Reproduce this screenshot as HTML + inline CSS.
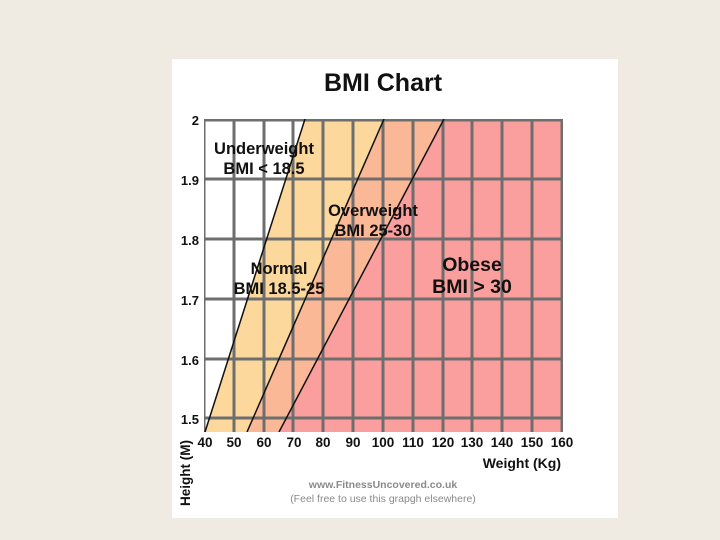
<!DOCTYPE html>
<html><head><style>
html,body{margin:0;padding:0;background:#efebe3;width:720px;height:540px;overflow:hidden}
svg{display:block}
text{font-family:"Liberation Sans",Arial,sans-serif;font-weight:bold;fill:#111}
</style></head><body>
<svg width="720" height="540" viewBox="0 0 720 540">
<rect x="0" y="0" width="720" height="540" fill="#efebe3"/>
<rect x="172" y="59" width="446" height="459" fill="#fff"/>
<text x="383" y="91" font-size="25" text-anchor="middle">BMI Chart</text>
<defs><clipPath id="c"><rect x="204" y="119" width="359" height="313"/></clipPath></defs>
<g clip-path="url(#c)">
<rect x="204" y="119" width="359" height="313" fill="#fa9e9e"/>
<polygon points="384,119 444,119 279,432 247,432" fill="#fbb896"/>
<polygon points="305,119 384,119 247,432 205,432" fill="#fcd89c"/>
<polygon points="204,119 305,119 205,432 204,432" fill="#ffffff"/>
<g stroke="#6e6e6e" stroke-width="3">
<line x1="204" y1="119" x2="204" y2="432"/>
<line x1="234" y1="119" x2="234" y2="432"/>
<line x1="264" y1="119" x2="264" y2="432"/>
<line x1="293" y1="119" x2="293" y2="432"/>
<line x1="323" y1="119" x2="323" y2="432"/>
<line x1="353" y1="119" x2="353" y2="432"/>
<line x1="383" y1="119" x2="383" y2="432"/>
<line x1="413" y1="119" x2="413" y2="432"/>
<line x1="443" y1="119" x2="443" y2="432"/>
<line x1="472" y1="119" x2="472" y2="432"/>
<line x1="502" y1="119" x2="502" y2="432"/>
<line x1="532" y1="119" x2="532" y2="432"/>
<line x1="562" y1="119" x2="562" y2="432"/>
<line x1="204" y1="120" x2="563" y2="120"/>
<line x1="204" y1="179" x2="563" y2="179"/>
<line x1="204" y1="239" x2="563" y2="239"/>
<line x1="204" y1="299" x2="563" y2="299"/>
<line x1="204" y1="359" x2="563" y2="359"/>
<line x1="204" y1="418" x2="563" y2="418"/>
</g>
<g stroke="#111" stroke-width="1.5">
<line x1="305" y1="119" x2="205" y2="432"/>
<line x1="384" y1="119" x2="247" y2="432"/>
<line x1="444" y1="119" x2="279" y2="432"/>
</g>
</g>
<g font-size="16.5" text-anchor="middle">
<text x="264" y="154">Underweight</text>
<text x="264" y="174">BMI &lt; 18.5</text>
<text x="373" y="216">Overweight</text>
<text x="373" y="236">BMI 25-30</text>
<text x="279" y="274">Normal</text>
<text x="279" y="294">BMI 18.5-25</text>
</g>
<g font-size="19.5" text-anchor="middle">
<text x="472" y="271">Obese</text>
<text x="472" y="293">BMI &gt; 30</text>
</g>
<g font-size="13" text-anchor="end">
<text x="199" y="125">2</text>
<text x="199" y="185">1.9</text>
<text x="199" y="245">1.8</text>
<text x="199" y="305">1.7</text>
<text x="199" y="365">1.6</text>
<text x="199" y="424">1.5</text>
</g>
<g font-size="13.5" text-anchor="middle">
<text x="205" y="447">40</text><text x="234" y="447">50</text><text x="264" y="447">60</text>
<text x="294" y="447">70</text><text x="323" y="447">80</text><text x="353" y="447">90</text>
<text x="383" y="447">100</text><text x="413" y="447">110</text><text x="443" y="447">120</text>
<text x="472" y="447">130</text><text x="502" y="447">140</text><text x="532" y="447">150</text>
<text x="562" y="447">160</text>
</g>
<text x="561" y="468" font-size="14" text-anchor="end">Weight (Kg)</text>
<text transform="translate(190,506) rotate(-90)" font-size="13.5">Height (M)</text>
<text x="383" y="488" font-size="10.5" text-anchor="middle" style="fill:#8a8a8a">www.FitnessUncovered.co.uk</text>
<text x="383" y="502" font-size="10.5" text-anchor="middle" style="fill:#8a8a8a;font-weight:normal">(Feel free to use this grapgh elsewhere)</text>
</svg>
</body></html>
